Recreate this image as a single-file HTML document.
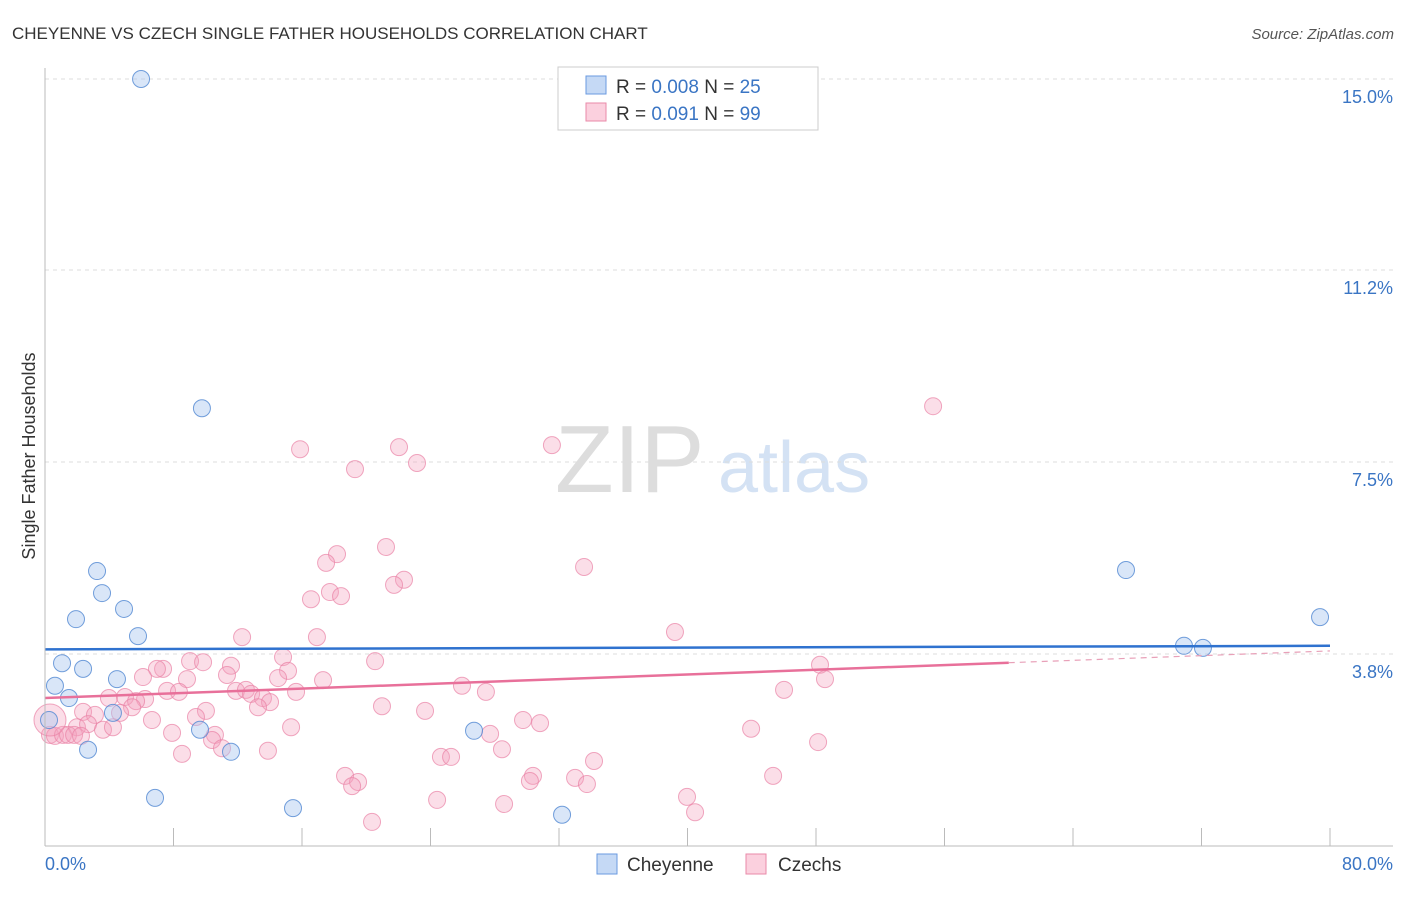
<!DOCTYPE html>
<html><head><meta charset="utf-8"><style>
body{margin:0;background:#fff;font-family:"Liberation Sans",sans-serif;}
svg text{font-family:"Liberation Sans",sans-serif;}
</style></head><body>
<svg width="1406" height="892" id="chart">
<text x="12" y="39" font-size="17" fill="#333">CHEYENNE VS CZECH SINGLE FATHER HOUSEHOLDS CORRELATION CHART</text>
<text x="1394" y="39" font-size="15" fill="#555" font-style="italic" text-anchor="end">Source: ZipAtlas.com</text>
<text x="555" y="492" font-size="96" fill="#ddd" font-family="Liberation Serif">ZIP</text>
<text x="718" y="492" font-size="72" fill="#d4e2f4">atlas</text>
<text x="35" y="456" font-size="18" fill="#333" text-anchor="middle" transform="rotate(-90 35 456)">Single Father Households</text>
<g id="grid"></g><g id="ticks"></g><g id="pts"></g><g id="trend"></g>
<line x1="45" y1="68" x2="45" y2="846" stroke="#bbb"/>
<line x1="45" y1="846" x2="1393" y2="846" stroke="#bbb"/>
<text x="45" y="870" font-size="18" fill="#3a75c4">0.0%</text>
<text x="1393" y="870" font-size="18" fill="#3a75c4" text-anchor="end">80.0%</text>
<g>
<rect x="558" y="67" width="260" height="63" fill="#fff" stroke="#ccc"/>
<rect x="586" y="76" width="20" height="18" fill="#c5d9f5" stroke="#6a9ae0"/>
<rect x="586" y="103" width="20" height="18" fill="#fbd0de" stroke="#ea8aa8"/>
<text x="616" y="93" font-size="19" fill="#333">R = <tspan fill="#3a75c4">0.008</tspan>   N = <tspan fill="#3a75c4">25</tspan></text>
<text x="616" y="120" font-size="19" fill="#333">R =  <tspan fill="#3a75c4">0.091</tspan>   N = <tspan fill="#3a75c4">99</tspan></text>
</g>
<g><rect x="597" y="854" width="20" height="20" fill="#c5d9f5" stroke="#6a9ae0"/><text x="627" y="871" font-size="19" fill="#333">Cheyenne</text></g>
<g><rect x="746" y="854" width="20" height="20" fill="#fbd0de" stroke="#ea8aa8"/><text x="778" y="871" font-size="19" fill="#333">Czechs</text></g>
</svg>
<script>
const yTicks=[3.8,7.5,11.2,15.0];
const yTickLabels=["3.8%","7.5%","11.2%","15.0%"];
const xTicks=[0,8,16,24,32,40,48,56,64,72,80];
const blueX=[5.98,9.77,3.24,3.55,1.93,4.92,5.79,1.06,2.37,0.62,1.49,4.48,4.23,0.25,2.68,9.65,11.58,6.85,15.44,26.71,32.19,67.30,70.91,72.09,79.38];
const blueY=[14.98,8.55,5.37,4.94,4.43,4.63,4.10,3.57,3.46,3.13,2.89,3.26,2.60,2.46,1.88,2.27,1.84,0.94,0.74,2.25,0.61,5.39,3.91,3.87,4.47];
const pinkX=[55.29,31.56,15.88,22.04,19.30,23.16,21.23,18.18,17.50,33.56,22.35,21.73,17.74,18.43,16.56,39.22,16.93,12.27,14.82,20.55,48.25,48.56,46.01,25.96,27.45,9.03,9.84,7.35,6.97,11.58,15.13,6.10,8.84,11.33,17.31,14.51,7.60,8.34,11.89,12.51,15.63,12.83,3.98,4.98,6.23,5.67,13.57,14.01,13.26,5.42,20.98,23.66,10.02,9.40,2.37,3.11,4.67,6.66,29.76,30.82,15.32,1.99,2.68,3.61,4.23,7.91,10.58,10.40,27.71,43.96,0.31,0.62,1.12,1.43,1.81,2.24,11.02,13.88,8.53,28.45,48.13,24.65,25.28,34.18,18.68,19.49,19.12,30.38,30.19,33.00,33.74,45.33,24.41,28.58,39.97,40.47,20.36,0.31];
const pinkY=[8.59,7.83,7.75,7.79,7.36,7.48,5.84,5.70,5.53,5.45,5.20,5.10,4.96,4.88,4.82,4.18,4.08,4.08,3.69,3.61,3.54,3.26,3.05,3.13,3.01,3.61,3.59,3.46,3.46,3.52,3.42,3.30,3.26,3.34,3.24,3.28,3.03,3.01,3.03,3.05,3.01,2.97,2.89,2.91,2.87,2.83,2.89,2.81,2.71,2.71,2.73,2.64,2.64,2.52,2.62,2.56,2.60,2.46,2.46,2.40,2.32,2.32,2.38,2.27,2.32,2.21,2.17,2.07,2.19,2.29,2.17,2.15,2.17,2.17,2.17,2.15,1.91,1.86,1.80,1.89,2.03,1.74,1.74,1.66,1.37,1.25,1.17,1.37,1.27,1.33,1.21,1.37,0.90,0.82,0.96,0.66,0.47,2.46];
const blueTrend=[3.84,3.91];
const pinkTrend=[2.89,3.81];
const pinkSolidEnd=60;
const X=v=>45+v/80*1285, Y=v=>846-v/3.75*192;
const NS="http://www.w3.org/2000/svg";
function mk(p,t,a){const e=document.createElementNS(NS,t);for(const k in a)e.setAttribute(k,a[k]);document.getElementById(p).appendChild(e);return e;}
yTicks.forEach((t,i)=>{const y=Y(t===15.0?14.98:t===3.8?3.75:t===7.5?7.5:11.25);
const l=mk('grid','line',{x1:45,x2:1393,y1:y,y2:y,stroke:'#ddd','stroke-dasharray':'4,4'});


const tx=mk('grid','text',{x:1393,y:y+24,'font-size':18,fill:'#3a75c4','text-anchor':'end'});tx.textContent=yTickLabels[i];

});
xTicks.forEach(t=>{const l=mk('ticks','line',{x1:X(t),x2:X(t),y1:828,y2:846,stroke:'#bbb'});

});
pinkX.forEach((x,i)=>{const c=mk('pts','circle',{cx:X(x),cy:Y(pinkY[i]),r:i===pinkX.length-1?16:8.5,fill:'rgba(244,160,188,0.35)',stroke:'rgba(234,130,165,0.7)','stroke-width':1});

});
blueX.forEach((x,i)=>{const c=mk('pts','circle',{cx:X(x),cy:Y(blueY[i]),r:8.5,fill:'rgba(170,200,240,0.45)',stroke:'rgba(80,135,210,0.8)','stroke-width':1});

});
const pf=v=>pinkTrend[0]+(pinkTrend[1]-pinkTrend[0])*v/80;
let l=mk('trend','line',{x1:X(0),y1:Y(blueTrend[0]),x2:X(80),y2:Y(blueTrend[1]),stroke:'#2f72cf','stroke-width':2.5});


l=mk('trend','line',{x1:X(0),y1:Y(pf(0)),x2:X(pinkSolidEnd),y2:Y(pf(pinkSolidEnd)),stroke:'#e8709a','stroke-width':2.5});


l=mk('trend','line',{x1:X(pinkSolidEnd),y1:Y(pf(pinkSolidEnd)),x2:X(80),y2:Y(pf(80)),stroke:'#e8a0b8','stroke-width':1.2,'stroke-dasharray':'6,5'});


</script>
</body></html>
